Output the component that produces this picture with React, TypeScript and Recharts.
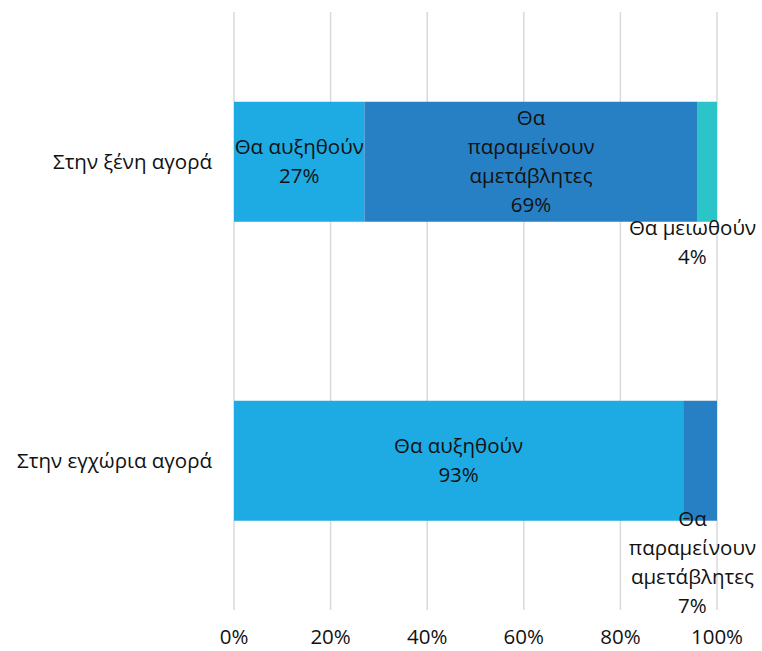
import { BarChart, Bar, XAxis, YAxis, CartesianGrid, LabelList } from "recharts";

// categories, top to bottom
const markets = ["Στην ξένη αγορά", "Στην εγχώρια αγορά"];
// series values, in %
const increase = [27, 93];
const unchanged = [69, 7];
const decrease = [4, 0];
const seriesNames = ["Θα αυξηθούν", "Θα παραμείνουν αμετάβλητες", "Θα μειωθούν"];
const percentTicks = [0, 20, 40, 60, 80, 100];

const W = 762;
const H = 651;
const FONT = "'Open Sans', sans-serif";
const FS = 20.5;
const LINE = 29;
const WRAP = 150;

const data = markets.map((market, i) => ({
  market,
  increase: increase[i],
  unchanged: unchanged[i],
  decrease: decrease[i],
}));

let ctx: CanvasRenderingContext2D | null = null;
function measure(s: string) {
  if (!ctx) {
    ctx = document.createElement("canvas").getContext("2d");
  }
  if (!ctx) return s.length * FS * 0.55;
  ctx.font = `${FS}px 'Open Sans'`;
  return ctx.measureText(s).width;
}

function wrap(text: string, max: number) {
  const words = text.split(" ");
  const lines: string[] = [];
  let cur = "";
  for (const w of words) {
    const next = cur ? cur + " " + w : w;
    if (cur && measure(next) > max) {
      lines.push(cur);
      cur = w;
    } else {
      cur = next;
    }
  }
  if (cur) lines.push(cur);
  return lines;
}

const makeLabel = (name: string) => (props: any) => {
  const { x, y, width, height, value } = props;
  if (!value) return null;
  const lines = [...wrap(name, WRAP), `${value}%`];
  const widest = Math.max(...lines.map(measure));
  let cx = x + width / 2;
  let top: number;
  if (value >= 10) {
    top = y + height / 2 - ((lines.length - 1) * LINE) / 2;
  } else {
    // small slices: label goes under the bar
    top = y + height + 14 - 4 * lines.length;
    cx = Math.min(cx, W - 6 - widest / 2);
  }
  return (
    <text textAnchor="middle" fontFamily={FONT} fontSize={FS} fill="#111">
      {lines.map((l, i) => (
        <tspan key={i} x={cx} y={top + i * LINE} dy="0.35em">
          {l}
        </tspan>
      ))}
    </text>
  );
};

export default function App() {
  return (
    <div style={{ position: "absolute", left: 0, top: 0, background: "#fff" }}>
      <BarChart
        width={W}
        height={H}
        data={data}
        layout="vertical"
        margin={{ top: 12, right: 45, bottom: 0, left: 0 }}
        barCategoryGap="30%"
      >
        <CartesianGrid horizontal={false} stroke="#d9d9d9" strokeWidth={1.5} />
        <XAxis
          type="number"
          domain={[0, 100]}
          ticks={percentTicks}
          tickFormatter={(v) => `${v}%`}
          axisLine={false}
          tickLine={false}
          height={41}
          tickMargin={13}
          interval={0}
          tick={{ fontFamily: FONT, fontSize: FS, fill: "#111" }}
        />
        <YAxis
          type="category"
          dataKey="market"
          width={234}
          axisLine={false}
          tickLine={false}
          tickMargin={16}
          tick={{ fontFamily: FONT, fontSize: FS, fill: "#111" }}
        />
        <Bar dataKey="increase" stackId="a" fill="#1eaae2" isAnimationActive={false}>
          <LabelList dataKey="increase" content={makeLabel(seriesNames[0])} />
        </Bar>
        <Bar dataKey="unchanged" stackId="a" fill="#2880c4" isAnimationActive={false}>
          <LabelList dataKey="unchanged" content={makeLabel(seriesNames[1])} />
        </Bar>
        <Bar dataKey="decrease" stackId="a" fill="#2bc4c9" isAnimationActive={false}>
          <LabelList dataKey="decrease" content={makeLabel(seriesNames[2])} />
        </Bar>
      </BarChart>
    </div>
  );
}
